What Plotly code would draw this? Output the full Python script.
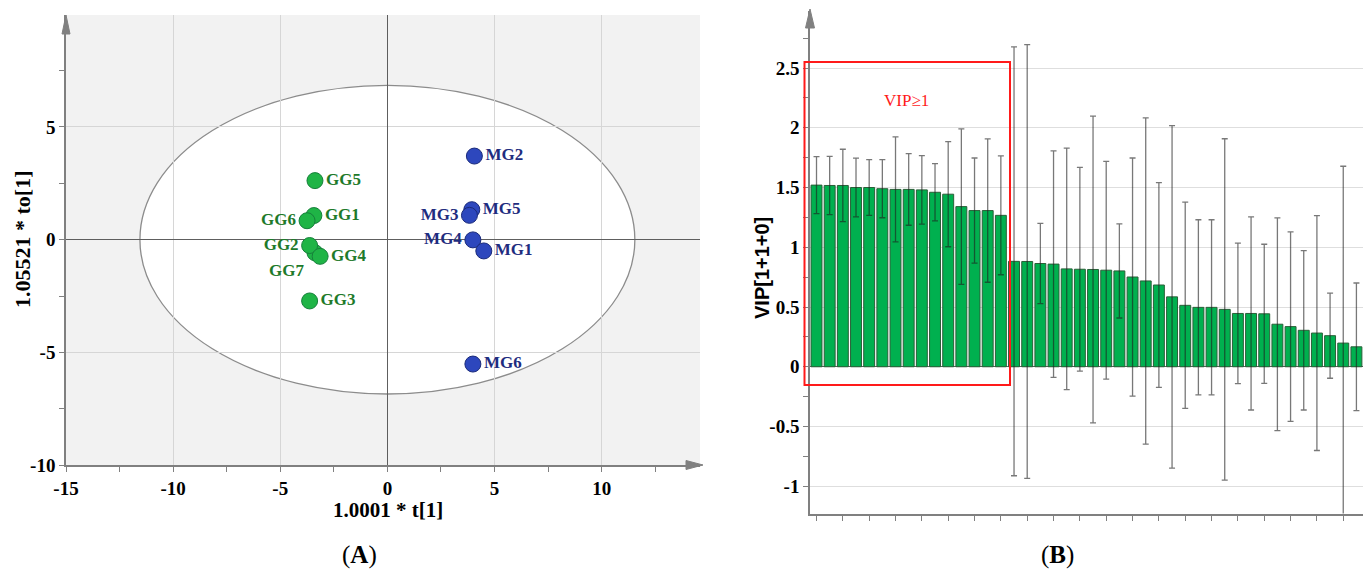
import plotly.graph_objects as go

W, H = 1368, 571

# ---------------- Panel A: OPLS-DA score plot ----------------
gg_names = ["GG7", "GG1", "GG2", "GG3", "GG4", "GG5", "GG6"]
gg_t = [-3.38, -3.43, -3.63, -3.63, -3.14, -3.38, -3.75]
gg_to = [-0.58, 1.07, -0.26, -2.72, -0.74, 2.62, 0.84]
gg_textpos = ["bottom left", "middle right", "middle left", "middle right",
              "middle right", "middle right", "middle left"]

mg_names = ["MG2", "MG5", "MG3", "MG4", "MG1", "MG6"]
mg_t = [4.06, 3.94, 3.83, 3.99, 4.50, 3.99]
mg_to = [3.71, 1.33, 1.08, -0.01, -0.50, -5.52]
mg_textpos = ["middle right", "middle right", "middle left", "middle left",
              "middle right", "middle right"]

ellipse_t = 11.55   # Hotelling T2 ellipse semi-axis (t[1])
ellipse_to = 6.85   # Hotelling T2 ellipse semi-axis (to[1])

a_xticks = [-15, -10, -5, 0, 5, 10]
a_yticks = [-10, -5, 0, 5]

# ---------------- Panel B: VIP plot ----------------
vip = [1.52, 1.517, 1.517, 1.50, 1.50, 1.49, 1.484, 1.484, 1.48, 1.46,
       1.444, 1.34, 1.307, 1.307, 1.267, 0.882, 0.881, 0.864, 0.859, 0.819,
       0.816, 0.814, 0.808, 0.802, 0.751, 0.718, 0.684, 0.585, 0.514, 0.497,
       0.497, 0.48, 0.446, 0.446, 0.443, 0.356, 0.336, 0.305, 0.282, 0.26,
       0.198, 0.167]
vip_err = [0.239, 0.244, 0.303, 0.246, 0.233, 0.243, 0.439, 0.30, 0.287, 0.24,
           0.44, 0.65, 0.44, 0.60, 0.497, 1.794, 1.815, 0.335, 0.948, 1.011,
           0.852, 1.283, 0.911, 0.394, 0.996, 1.365, 0.856, 1.433, 0.863, 0.733,
           0.733, 1.428, 0.588, 0.808, 0.582, 0.89, 0.793, 0.667, 0.983, 0.356,
           1.48, 0.534]
var_index = list(range(1, len(vip) + 1))
b_yticks = [-1, -0.5, 0, 0.5, 1, 1.5, 2, 2.5]


def px(x):
    return x / W


def py(y):
    return 1 - y / H


SERIF = "Liberation Serif"
SANS = "Liberation Sans"
AXC = "#808080"

fig = go.Figure()

fig.add_trace(go.Scatter(
    x=gg_t, y=gg_to, text=gg_names, mode="markers+text", textposition=gg_textpos,
    marker=dict(size=16, color="#1fb446", line=dict(color="#16803a", width=1)),
    textfont=dict(family=SERIF, size=17, color="#1e7a2a", weight="bold"),
    xaxis="x", yaxis="y", showlegend=False, cliponaxis=False))
fig.add_trace(go.Scatter(
    x=mg_t, y=mg_to, text=mg_names, mode="markers+text", textposition=mg_textpos,
    marker=dict(size=16, color="#2d47bd", line=dict(color="#1a2a7a", width=1)),
    textfont=dict(family=SERIF, size=17, color="#1f2d80", weight="bold"),
    xaxis="x", yaxis="y", showlegend=False, cliponaxis=False))

fig.add_trace(go.Bar(
    x=var_index, y=vip,
    error_y=dict(type="data", array=vip_err, color="rgba(30,30,30,0.6)", thickness=1.3, width=3),
    marker=dict(color="#00b04f", line=dict(color="#2a5f38", width=1)),
    xaxis="x2", yaxis="y2", showlegend=False))

tickfont = dict(family=SERIF, size=19, color="black", weight="bold")

layout = dict(
    width=W, height=H, margin=dict(l=0, r=0, t=0, b=0, autoexpand=False),
    paper_bgcolor="white", plot_bgcolor="white", bargap=0.17,
    xaxis=dict(domain=[px(66), px(700)], range=[-15, 14.59], anchor="y", automargin=False,
               tickmode="array", tickvals=a_xticks, ticktext=[f"{v:g}" for v in a_xticks],
               showgrid=True, gridcolor="#d6d6d6", gridwidth=1,
               zeroline=True, zerolinecolor="#5e5e5e", zerolinewidth=1.4,
               showline=True, linecolor=AXC, linewidth=1.5,
               ticks="outside", ticklen=5, tickcolor=AXC, tickwidth=1,
               minor=dict(tick0=0, dtick=2.5, ticks="outside", ticklen=5, tickcolor=AXC, showgrid=False),
               tickfont=tickfont),
    yaxis=dict(domain=[py(465), py(15)], range=[-10, 9.97], anchor="x", automargin=False,
               tickmode="array", tickvals=a_yticks, ticktext=[f"{v:g}" for v in a_yticks],
               showgrid=True, gridcolor="#d6d6d6", gridwidth=1,
               zeroline=True, zerolinecolor="#5e5e5e", zerolinewidth=1.4,
               showline=True, linecolor=AXC, linewidth=1.5,
               ticks="outside", ticklen=5, tickcolor=AXC, tickwidth=1,
               minor=dict(tick0=0, dtick=2.5, ticks="outside", ticklen=5, tickcolor=AXC, showgrid=False),
               tickfont=tickfont),
    xaxis2=dict(domain=[px(810), px(1363)], range=[0.506, 42.5], anchor="y2", automargin=False,
                tickmode="linear", tick0=1, dtick=2, showticklabels=False,
                showgrid=False, zeroline=False,
                showline=True, linecolor=AXC, linewidth=1.5,
                ticks="outside", ticklen=6, tickcolor=AXC, tickwidth=1),
    yaxis2=dict(domain=[py(513.5), py(11)], range=[-1.228, 2.977], anchor="x2", automargin=False,
                tickmode="array", tickvals=b_yticks, ticktext=[f"{v:g}" for v in b_yticks],
                showgrid=True, gridcolor="#dedede", gridwidth=1,
                zeroline=True, zerolinecolor="#5e5e5e", zerolinewidth=1.4,
                showline=True, linecolor=AXC, linewidth=1.5,
                ticks="outside", ticklen=5, tickcolor=AXC, tickwidth=1,
                minor=dict(tick0=0, dtick=0.25, ticks="outside", ticklen=5, tickcolor=AXC, showgrid=False),
                tickfont=tickfont),
)
fig.update_layout(**layout)

shapes = [
    # grey plot background of score plot
    dict(type="rect", xref="x domain", yref="y domain", x0=0, x1=1, y0=0, y1=1,
         fillcolor="#f2f2f2", line=dict(width=0), layer="below"),
    # Hotelling T2 ellipse
    dict(type="circle", xref="x", yref="y", x0=-ellipse_t, x1=ellipse_t,
         y0=-ellipse_to, y1=ellipse_to, fillcolor="white",
         line=dict(color="#8c8c8c", width=1.3), layer="below"),
    # axis arrows
    dict(type="path", xref="paper", yref="paper",
         path=f"M {px(66)} {py(15)} L {px(62)} {py(34)} L {px(70)} {py(34)} Z",
         fillcolor=AXC, line=dict(color=AXC, width=1)),
    dict(type="path", xref="paper", yref="paper",
         path=f"M {px(703)} {py(465)} L {px(686)} {py(460.5)} L {px(686)} {py(469.5)} Z",
         fillcolor=AXC, line=dict(color=AXC, width=1)),
    dict(type="path", xref="paper", yref="paper",
         path=f"M {px(810)} {py(9)} L {px(805.5)} {py(28)} L {px(814.5)} {py(28)} Z",
         fillcolor=AXC, line=dict(color=AXC, width=1)),
    # red VIP>=1 box
    dict(type="rect", xref="paper", yref="paper", x0=px(804.5), x1=px(1010),
         y0=py(385), y1=py(62), line=dict(color="#ff1a1a", width=2), fillcolor="rgba(0,0,0,0)"),
]
fig.update_layout(shapes=shapes)

annotations = [
    dict(text="<b>1.0001 * t[1]</b>", x=px(388), y=py(510), xref="paper", yref="paper",
         showarrow=False, font=dict(family=SERIF, size=21, color="black"),
         xanchor="center", yanchor="middle"),
    dict(text="<b>1.05521 * to[1]</b>", x=px(22), y=py(240), xref="paper", yref="paper",
         showarrow=False, textangle=-90, font=dict(family=SERIF, size=22, color="black"),
         xanchor="center", yanchor="middle"),
    dict(text="(<b>A</b>)", x=px(359), y=py(555), xref="paper", yref="paper",
         showarrow=False, font=dict(family=SERIF, size=25, color="black"),
         xanchor="center", yanchor="middle"),
    dict(text="(<b>B</b>)", x=px(1057), y=py(555), xref="paper", yref="paper",
         showarrow=False, font=dict(family=SERIF, size=25, color="black"),
         xanchor="center", yanchor="middle"),
    dict(text="<b>VIP[1+1+0]</b>", x=px(762), y=py(268), xref="paper", yref="paper",
         showarrow=False, textangle=-90, font=dict(family=SANS, size=20, color="black"),
         xanchor="center", yanchor="middle"),
    dict(text="VIP≥1", x=7.8, y=2.23, xref="x2", yref="y2",
         showarrow=False, font=dict(family=SERIF, size=17, color="#ff1a1a"),
         xanchor="center", yanchor="middle"),
]
fig.update_layout(annotations=annotations)

fig.write_html(
    "out.html",
    config={"displayModeBar": False},
    post_script="document.body.style.margin='0';document.body.style.padding='0';"
                "document.body.style.overflow='hidden';",
)
